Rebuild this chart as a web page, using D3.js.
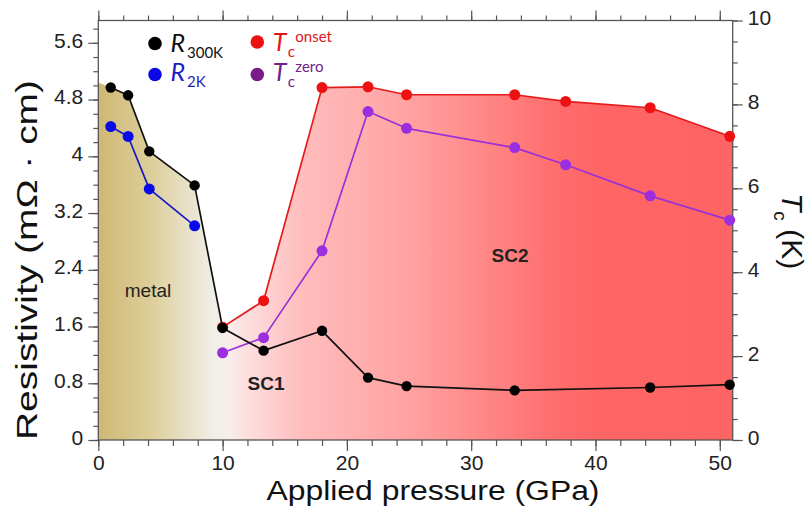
<!DOCTYPE html>
<html>
<head>
<meta charset="utf-8">
<script src="https://cdn.jsdelivr.net/npm/d3@7"></script>
<style>
  html, body { margin: 0; padding: 0; background: #fff; }
  svg { display: block; }
  text { font-family: "Liberation Sans", Arial, sans-serif; }
  .leg { font-family: Lato, "Open Sans", sans-serif; }
</style>
</head>
<body>
<svg id="chart" width="808" height="510"></svg>
<script>
// Pressure points (GPa)
const pressureR = [1.0, 2.4, 4.1, 7.75, 10.0, 13.3, 18.0, 21.7, 24.8, 33.5, 44.4, 50.8];
const r300K     = [4.97, 4.86, 4.07, 3.59, 1.58, 1.26, 1.54, 0.88, 0.76, 0.70, 0.74, 0.78];

const pressure2K = [1.0, 2.4, 4.1, 7.75];
const r2K        = [4.42, 4.28, 3.54, 3.02];

const pressureTc = [10.0, 13.3, 18.0, 21.7, 24.8, 33.5, 37.6, 44.4, 50.8];
const tcOnset    = [2.69, 3.32, 8.40, 8.42, 8.23, 8.23, 8.07, 7.92, 7.24];
const tcZero     = [2.08, 2.44, 4.51, 7.83, 7.43, 6.97, 6.56, 5.82, 5.24];

// Resistivity at the 0 GPa edge of the metallic region
const metalEdge = 5.04;

// Axis ticks
const xMajor = [0, 10, 20, 30, 40, 50];
const xMinor = d3.range(0, 51, 2);
const yLeftMajor = [0, 0.8, 1.6, 2.4, 3.2, 4, 4.8, 5.6];
const yLeftMinor = d3.range(0, 5.9, 0.2);
const yRightMajor = [0, 2, 4, 6, 8, 10];
const yRightMinor = d3.range(0, 10.01, 0.5);

const svg = d3.select("#chart");
const L = 98.3, R = 732.7, T = 20.5, B = 440;

const x = d3.scaleLinear().domain([0, 51.04]).range([L, R]);
const yL = d3.scaleLinear().domain([0, 5.915]).range([B, T]);
const yR = d3.scaleLinear().domain([0, 10]).range([B, T]);

// Phase-diagram background gradient
const defs = svg.append("defs");
const grad = defs.append("linearGradient")
  .attr("id", "phase").attr("gradientUnits", "userSpaceOnUse")
  .attr("x1", L).attr("x2", R).attr("y1", 0).attr("y2", 0);
[
  [0.00, "#cfb875"], [0.08, "#dccd98"], [0.14, "#e8e1c8"], [0.18, "#f0eee6"],
  [0.205, "#f7eeec"], [0.23, "#fde0e0"], [0.32, "#ffbdbd"], [0.50, "#ffa0a0"],
  [0.64, "#ff8080"], [0.73, "#ff6b6b"], [0.80, "#ff6565"], [1.0, "#ff6464"]
].forEach(([o, c]) => grad.append("stop").attr("offset", o).attr("stop-color", c));

// Region outline: metallic boundary from R300K, then the Tc onset dome
const region = [[x(0), yL(metalEdge)]];
pressureR.forEach((p, i) => { if (p < 10) region.push([x(p), yL(r300K[i])]); });
pressureTc.forEach((p, i) => region.push([x(p), yR(tcOnset[i])]));
region.push([x(51.04), yR(tcOnset[tcOnset.length - 1])]);
region.push([x(51.04), yL(0)]);
region.push([x(0), yL(0)]);
svg.append("path")
  .attr("d", "M" + region.map(p => p.join(",")).join("L") + "Z")
  .attr("fill", "url(#phase)");

// Region labels
svg.append("text").attr("x", 148).attr("y", 297).attr("text-anchor", "middle")
  .attr("font-size", 19).attr("fill", "#222").text("metal");
svg.append("text").attr("x", 266).attr("y", 390).attr("text-anchor", "middle")
  .attr("font-size", 19).attr("font-weight", "bold").attr("fill", "#222").text("SC1");
svg.append("text").attr("x", 510).attr("y", 262).attr("text-anchor", "middle")
  .attr("font-size", 19).attr("font-weight", "bold").attr("fill", "#222").text("SC2");

// Axes
const axisColor = "#555";
function styleAxis(g) {
  g.select(".domain").remove();
  g.selectAll(".tick line").attr("stroke", axisColor).attr("stroke-width", 1.2);
  g.selectAll(".tick text").attr("fill", "#222").attr("font-size", 21)
    .attr("font-family", "'Liberation Sans', Arial, sans-serif");
}
const fmtL = d => (Math.round(d * 10) / 10).toString();

svg.append("g").attr("transform", `translate(0,${B})`)
  .call(d3.axisBottom(x).tickValues(xMinor).tickSize(6).tickFormat(""))
  .call(styleAxis);
svg.append("g").attr("transform", `translate(0,${B})`)
  .call(d3.axisBottom(x).tickValues(xMajor).tickSize(11).tickPadding(4).tickFormat(d3.format("d")))
  .call(styleAxis);
svg.append("g").attr("transform", `translate(0,${T})`)
  .call(d3.axisTop(x).tickValues(xMinor).tickSize(5).tickFormat(""))
  .call(styleAxis);
svg.append("g").attr("transform", `translate(0,${T})`)
  .call(d3.axisTop(x).tickValues(xMajor).tickSize(10).tickFormat(""))
  .call(styleAxis);

svg.append("g").attr("transform", `translate(${L},0)`)
  .call(d3.axisLeft(yL).tickValues(yLeftMinor).tickSize(5).tickFormat(""))
  .call(styleAxis);
svg.append("g").attr("transform", `translate(${L},0)`)
  .call(d3.axisLeft(yL).tickValues(yLeftMajor).tickSize(10).tickPadding(5).tickFormat(fmtL))
  .call(styleAxis)
  .call(g => g.selectAll(".tick text").attr("dy", "0.2em"));

svg.append("g").attr("transform", `translate(${R},0)`)
  .call(d3.axisRight(yR).tickValues(yRightMinor).tickSize(5).tickFormat(""))
  .call(styleAxis);
svg.append("g").attr("transform", `translate(${R},0)`)
  .call(d3.axisRight(yR).tickValues(yRightMajor).tickSize(10).tickPadding(5).tickFormat(d3.format("d")))
  .call(styleAxis)
  .call(g => g.selectAll(".tick text").attr("dy", "0.2em"));

// Frame
svg.append("rect").attr("x", L).attr("y", T).attr("width", R - L).attr("height", B - T)
  .attr("fill", "none").attr("stroke", axisColor).attr("stroke-width", 1.3);

// Axis titles
svg.append("text").attr("x", 433).attr("y", 500).attr("text-anchor", "middle")
  .attr("font-size", 27).attr("fill", "#111")
  .attr("textLength", 333).attr("lengthAdjust", "spacingAndGlyphs")
  .text("Applied pressure (GPa)");
svg.append("text").attr("transform", "translate(37,260) rotate(-90)")
  .attr("text-anchor", "middle").attr("font-size", 30).attr("fill", "#111")
  .attr("textLength", 360).attr("lengthAdjust", "spacingAndGlyphs")
  .text("Resistivity (mΩ · cm)");
const tcTitle = svg.append("text").attr("transform", "translate(782,193) rotate(90)")
  .attr("font-size", 30).attr("fill", "#111");
tcTitle.append("tspan").attr("font-style", "italic").text("T");
tcTitle.append("tspan").attr("font-size", 19).attr("dy", 8).text("c");
tcTitle.append("tspan").attr("dy", -8).text(" (K)");

// Series
function series(xs, ys, yScale, lineColor, dotColor, r) {
  const pts = xs.map((p, i) => [x(p), yScale(ys[i])]);
  svg.append("path").attr("d", d3.line()(pts))
    .attr("fill", "none").attr("stroke", lineColor).attr("stroke-width", 1.7)
    .attr("stroke-linejoin", "round");
  svg.append("g").selectAll("circle").data(pts).join("circle")
    .attr("cx", d => d[0]).attr("cy", d => d[1]).attr("r", r).attr("fill", dotColor);
}
series(pressureTc, tcOnset, yR, "#e51b1b", "#ee1111", 5.5);
series(pressureTc, tcZero, yR, "#9b30d9", "#9b2fe0", 5.5);
series(pressure2K, r2K, yL, "#1818c8", "#0a0ae6", 5.5);
series(pressureR, r300K, yL, "#111", "#000", 5.2);

// Legend: marker, italic symbol, subscript and optional superscript
const legend = [
  { cx: 155, cy: 43.5, base: 51.5, dot: "#000", color: "#111", main: "R", sub: "300K", sup: null },
  { cx: 155, cy: 74.5, base: 80.5, dot: "#0a0ae6", color: "#1f1fc0", main: "R", sub: "2K", sup: null },
  { cx: 257.3, cy: 42, base: 51, dot: "#ee1111", color: "#e01818", main: "T", sub: "c", sup: "onset" },
  { cx: 257.3, cy: 74.5, base: 81, dot: "#7b1a8a", color: "#72218a", main: "T", sub: "c", sup: "zero" }
];
legend.forEach(d => {
  svg.append("circle").attr("cx", d.cx).attr("cy", d.cy).attr("r", 6.8).attr("fill", d.dot);
  svg.append("text").attr("class", "leg").attr("x", d.cx + 15.5).attr("y", d.base)
    .attr("font-size", 25).attr("font-style", "italic").attr("fill", d.color).text(d.main);
  if (d.sup) {
    svg.append("text").attr("class", "leg").attr("x", d.cx + 30.5).attr("y", d.base + 6)
      .attr("font-size", 15).attr("fill", d.color).text(d.sub);
    svg.append("text").attr("class", "leg").attr("x", d.cx + 38).attr("y", d.base - 9.5)
      .attr("font-size", 15).attr("fill", d.color).text(d.sup);
  } else {
    svg.append("text").attr("class", "leg").attr("x", d.cx + 32).attr("y", d.base + 6)
      .attr("font-size", 15).attr("fill", d.color).text(d.sub);
  }
});
</script>
</body>
</html>
